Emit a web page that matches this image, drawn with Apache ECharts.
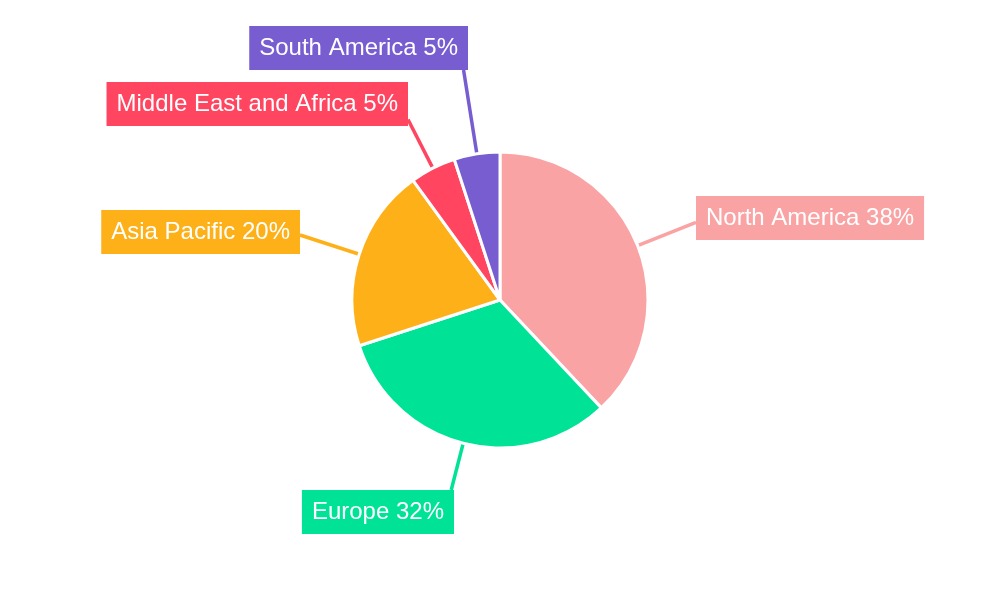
<!DOCTYPE html>
<html>
<head>
<meta charset="utf-8">
<script src="https://cdn.jsdelivr.net/npm/echarts@6/dist/echarts.min.js"></script>
<style>
  html, body { margin: 0; padding: 0; background: #fff; }
  #chart { width: 1000px; height: 600px; }
</style>
</head>
<body>
<div id="chart"></div>
<script>
// Regional share, in percent
const regions = ['North America', 'Europe', 'Asia Pacific', 'Middle East and Africa', 'South America'];
const shares = [38, 32, 20, 5, 5];
const colors = ['#F9A3A4', '#00E396', '#FEB019', '#FF4560', '#775DD0'];

// Where each callout box sits: the edge nearest the pie and the box top
const calloutPlacement = [
  { edge: 696, top: 196, side: 'left' },
  { edge: 454, top: 490, side: 'right' },
  { edge: 300, top: 210, side: 'right' },
  { edge: 408, top: 82, side: 'right' },
  { edge: 468, top: 26, side: 'right' }
];

const CENTER = [500, 300];

const chart = echarts.init(document.getElementById('chart'), null, { renderer: 'canvas' });

// Where a ray from p along d first enters rectangle r (slab method);
// falls back to the nearest point of r when the ray misses it.
function rayToRect(p, d, r) {
  let tmin = -Infinity, tmax = Infinity;
  const lo = [r.x, r.y], hi = [r.x + r.width, r.y + r.height];
  for (let k = 0; k < 2; k++) {
    if (Math.abs(d[k]) < 1e-9) {
      if (p[k] < lo[k] || p[k] > hi[k]) { tmin = Infinity; break; }
    } else {
      let t1 = (lo[k] - p[k]) / d[k], t2 = (hi[k] - p[k]) / d[k];
      if (t1 > t2) { const s = t1; t1 = t2; t2 = s; }
      tmin = Math.max(tmin, t1);
      tmax = Math.min(tmax, t2);
    }
  }
  if (tmin <= tmax && tmin > 0 && isFinite(tmin)) {
    return [p[0] + d[0] * tmin, p[1] + d[1] * tmin];
  }
  return [
    Math.min(Math.max(p[0], r.x), r.x + r.width),
    Math.min(Math.max(p[1], r.y), r.y + r.height)
  ];
}

chart.setOption({
  animation: false,
  series: [{
    type: 'pie',
    center: CENTER,
    radius: 148,
    startAngle: 90,
    clockwise: true,
    avoidLabelOverlap: false,
    itemStyle: { borderColor: '#fff', borderWidth: 3 },
    data: regions.map((name, i) => ({
      name: name,
      value: shares[i],
      itemStyle: { color: colors[i] },
      label: { backgroundColor: colors[i] },
      labelLine: { lineStyle: { color: colors[i], width: 3.5 } }
    })),
    label: {
      show: true,
      position: 'outside',
      formatter: p => p.name + ' ' + p.value + '%',
      color: '#fff',
      fontFamily: 'Liberation Sans, Arial, sans-serif',
      fontSize: 24,
      lineHeight: 24,
      padding: [10, 10, 10, 10],
      distanceToLabelLine: 0
    },
    labelLine: {
      show: true,
      length: 55,
      length2: 0,
      smooth: false,
      lineStyle: { width: 3.5 }
    },
    labelLayout: function (params) {
      const place = calloutPlacement[params.dataIndex];
      const w = params.labelRect.width;
      const h = params.labelRect.height;
      const left = place.side === 'left' ? place.edge : place.edge - w;
      const rect = { x: left, y: place.top, width: w, height: h };
      const start = params.labelLinePoints[0];
      const dir = [start[0] - CENTER[0], start[1] - CENTER[1]];
      const end = rayToRect(start, dir, rect);
      return {
        x: left,
        y: place.top,
        align: 'left',
        verticalAlign: 'top',
        labelLinePoints: [start, end, end]
      };
    }
  }]
});
</script>
</body>
</html>
